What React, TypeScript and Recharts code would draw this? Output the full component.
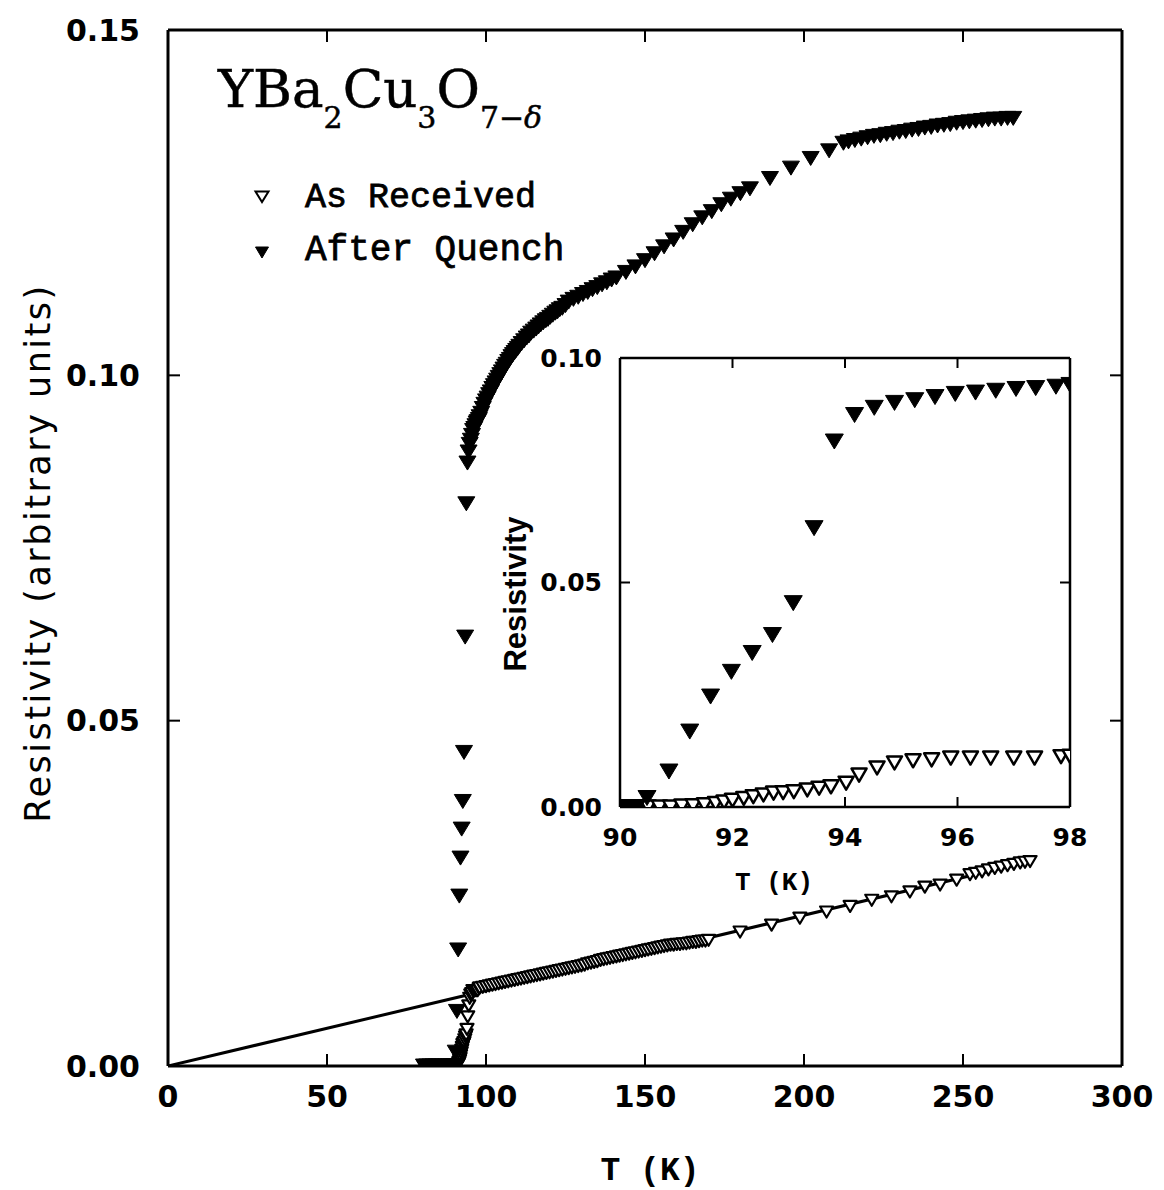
import { ScatterChart, Scatter, XAxis, YAxis } from 'recharts'

// axis ticks
const tempTicks = [0, 50, 100, 150, 200, 250, 300]
const resTicks = [0, 0.05, 0.1, 0.15]
const insetTempTicks = [90, 92, 94, 96, 98]
const insetResTicks = [0, 0.05, 0.1]

// [T (K), resistivity]
const asReceived: [number, number][] = [
  [80.5, 0], [81.5, 0], [82.5, 0], [83.5, 0], [84.5, 0], [85.5, 0], [86.5, 0],
  [87.5, 0], [88.5, 0], [89.3, 0], [89.8, 0],
  [90.1, 0], [90.3, 0], [90.5, 0], [90.7, 0], [90.9, 0], [91.1, 0.0002],
  [91.3, 0.0003], [91.5, 0.0005], [91.7, 0.0008], [91.85, 0.0011], [92.0, 0.0015],
  [92.2, 0.0019], [92.37, 0.0023], [92.55, 0.0027], [92.73, 0.0031], [92.9, 0.0032],
  [93.09, 0.0034], [93.33, 0.0038], [93.54, 0.0042], [93.75, 0.0045], [94.02, 0.0053],
  [94.25, 0.0071], [94.57, 0.0087], [94.88, 0.0098], [95.21, 0.0103], [95.54, 0.0105],
  [95.88, 0.0109], [96.23, 0.0109], [96.59, 0.0109], [97.0, 0.0109], [97.37, 0.0109],
  [97.84, 0.0112],
  [98, 0.0113], [99, 0.0114], [100, 0.0115], [101, 0.0116], [102, 0.0117],
  [103, 0.0118], [104, 0.0119], [105, 0.012], [106, 0.0121], [107, 0.0122],
  [108, 0.0123], [109, 0.0124], [110, 0.0125], [111, 0.0126], [112, 0.0127],
  [113, 0.0128], [114, 0.0129], [115, 0.013], [116, 0.0131], [117, 0.0132],
  [118, 0.0133], [119, 0.0134], [120, 0.0135], [121, 0.0136], [122, 0.0137],
  [123, 0.0138], [124, 0.0139], [125, 0.014], [126, 0.0141], [127, 0.0142],
  [128, 0.0143], [129, 0.0144], [130, 0.0145], [131, 0.0146], [132, 0.0148],
  [133, 0.0149], [134, 0.015], [135, 0.0151], [136, 0.0153], [137, 0.0154],
  [138, 0.0155], [139, 0.0156], [140, 0.0157], [141, 0.0158], [142, 0.0159],
  [143, 0.016], [144, 0.0161], [145, 0.0162], [146, 0.0163], [147, 0.0164],
  [148, 0.0165], [149, 0.0166], [150, 0.0167], [151, 0.0168], [152, 0.0169],
  [153, 0.017], [154, 0.0171], [155, 0.0172], [156, 0.0173], [157, 0.0174],
  [158, 0.0175], [159, 0.0175], [160, 0.0176], [161, 0.0176], [162, 0.0177],
  [163, 0.0177], [164, 0.0178], [165, 0.0179], [166, 0.0179], [167, 0.018],
  [168, 0.0181], [169, 0.0181], [170, 0.0182],
  [179.9, 0.0194], [189.8, 0.0204], [198.7, 0.0214], [207.1, 0.0223],
  [214.5, 0.0231], [221.3, 0.024], [227.5, 0.0245], [233.3, 0.0252], [238, 0.0259],
  [242.8, 0.0262], [248, 0.0269], [252.2, 0.0277],
  [254, 0.0279], [256, 0.0281], [258, 0.0284], [260, 0.0286], [262, 0.0288],
  [264, 0.029], [266, 0.0292], [268, 0.0294], [269.5, 0.0295], [271.1, 0.0296],
]

const afterQuench: [number, number][] = [
  [80.5, 0], [81.5, 0], [82.5, 0], [83.5, 0], [84.5, 0], [85.5, 0], [86.5, 0],
  [87.5, 0], [88.5, 0], [89.2, 0], [89.8, 0], [90.1, 0], [90.3, 0],
  [90.48, 0.002], [90.87, 0.0079], [91.24, 0.0168], [91.61, 0.0246], [91.98, 0.0301],
  [92.35, 0.0343], [92.71, 0.0383], [93.08, 0.0454], [93.45, 0.0621], [93.81, 0.0814],
  [94.17, 0.0873], [94.52, 0.0889], [94.88, 0.09], [95.24, 0.0906], [95.6, 0.0913],
  [95.96, 0.092], [96.32, 0.0923], [96.68, 0.0927], [97.04, 0.0931], [97.39, 0.0933],
  [97.75, 0.0936],
  [98, 0.094], [98.5, 0.0945], [99, 0.0952], [99.5, 0.0958], [100, 0.0963],
  [100.5, 0.0967], [101, 0.0972], [101.5, 0.0976], [102, 0.0981], [102.5, 0.0985],
  [103, 0.0989], [103.5, 0.0993], [104, 0.0997], [104.5, 0.1001], [105, 0.1005],
  [105.5, 0.1009], [106, 0.1013], [106.5, 0.1016], [107, 0.102], [107.5, 0.1023],
  [108, 0.1027], [108.5, 0.103], [109, 0.1033], [109.5, 0.1036], [110, 0.1039],
  [110.5, 0.1042], [111.2, 0.1046], [112, 0.105], [112.8, 0.1054], [113.5, 0.1057],
  [114.2, 0.1061], [115, 0.1064], [115.8, 0.1067], [116.5, 0.107], [117.2, 0.1073],
  [118, 0.1076], [118.8, 0.1079], [119.5, 0.1081], [120.2, 0.1084], [121, 0.1087],
  [121.8, 0.109], [122.5, 0.1092], [123.2, 0.1095], [124, 0.1097], [125, 0.1101],
  [126, 0.1106], [127.5, 0.111], [129, 0.1113], [130.5, 0.1117], [132, 0.112],
  [133.5, 0.1124], [135, 0.1127], [136.5, 0.1131], [138, 0.1134], [139.5, 0.1138],
  [141, 0.1141], [144, 0.1149], [147, 0.1157],
  [150, 0.1166], [153, 0.1176], [156, 0.1186], [159, 0.1196], [162, 0.1207],
  [165, 0.1218], [168, 0.1228], [171, 0.1237], [174, 0.1247], [177, 0.1255],
  [180, 0.1263], [183, 0.127],
  [189.3, 0.1285], [195.9, 0.13], [202.1, 0.1314], [207.9, 0.1325],
  [212.4, 0.1336], [214, 0.1338], [216, 0.134], [218, 0.1342], [220, 0.1344],
  [222, 0.1346], [224, 0.1347], [226, 0.1349], [228, 0.135], [230, 0.1352],
  [232, 0.1353], [234, 0.1355], [236, 0.1356], [238, 0.1358], [240, 0.1359],
  [242, 0.1361], [244, 0.1362], [246, 0.1363], [248, 0.1365], [250, 0.1366],
  [252, 0.1367], [254, 0.1368], [256, 0.1369], [258, 0.137], [260, 0.1371],
  [262, 0.1371], [264, 0.1372], [265.8, 0.1372],
]

// straight line drawn through the origin
const fitLine: [number, number][] = [[0, 0], [271, 0.0296]]

const toPoints = (rows: [number, number][]) => rows.map(([T, R]) => ({ T, R }))
const inInset = (rows: [number, number][]) =>
  toPoints(rows.filter(([T]) => T >= 90 && T <= 98))

function tri(w: number, h: number, filled: boolean, sw = 2) {
  return (props: any) => {
    const { cx, cy } = props
    if (cx == null || cy == null) return <g />
    const d = `M${cx - w / 2},${cy - h / 2}L${cx + w / 2},${cy - h / 2}L${cx},${cy + h / 2}Z`
    return (
      <path
        d={d}
        fill={filled ? '#000' : '#fff'}
        stroke="#000"
        strokeWidth={filled ? 1 : sw}
        strokeLinejoin="round"
      />
    )
  }
}

const noDot = () => <g />
const blank = () => ''

const mainTick = { fill: '#000', fontSize: 30, fontFamily: 'DejaVu Sans', fontWeight: 'bold' }
const insetTick = { fill: '#000', fontSize: 25, fontFamily: 'DejaVu Sans', fontWeight: 'bold' }
const frame = { stroke: '#000', strokeWidth: 3 }
const insetFrame = { stroke: '#000', strokeWidth: 2.5 }
const tickStroke = { stroke: '#000', strokeWidth: 2 }

function MainChart() {
  return (
    <ScatterChart width={1164} height={1190} margin={{ top: 29, right: 41, bottom: 0, left: 0 }}>
      <XAxis xAxisId="b" dataKey="T" type="number" domain={[0, 300]} ticks={tempTicks}
        allowDataOverflow height={124} axisLine={frame} tickLine={tickStroke}
        tickSize={-12} tickMargin={32} tick={mainTick} />
      <XAxis xAxisId="t" orientation="top" dataKey="T" type="number" domain={[0, 300]}
        ticks={tempTicks} allowDataOverflow height={1} axisLine={frame} tickLine={tickStroke}
        tickSize={-12} tickFormatter={blank} />
      <YAxis yAxisId="l" dataKey="R" type="number" domain={[0, 0.15]} ticks={resTicks}
        allowDataOverflow width={168} axisLine={frame} tickLine={tickStroke}
        tickSize={-12} tickMargin={40} tick={mainTick}
        tickFormatter={(v: number) => v.toFixed(2)} />
      <YAxis yAxisId="r" orientation="right" dataKey="R" type="number" domain={[0, 0.15]}
        ticks={resTicks} allowDataOverflow width={1} axisLine={frame} tickLine={tickStroke}
        tickSize={-12} tickFormatter={blank} />
      <Scatter xAxisId="b" yAxisId="l" data={toPoints(fitLine)} line={{ stroke: '#000', strokeWidth: 3 }}
        shape={noDot} isAnimationActive={false} />
      <Scatter xAxisId="b" yAxisId="l" data={toPoints(asReceived)} shape={tri(13, 11, false, 2.2)}
        isAnimationActive={false} />
      <Scatter xAxisId="b" yAxisId="l" data={toPoints(afterQuench)} shape={tri(17, 14, true)}
        isAnimationActive={false} />
    </ScatterChart>
  )
}

function InsetChart() {
  return (
    <ScatterChart width={620} height={570} margin={{ top: 17, right: 19, bottom: 0, left: 0 }}>
      <XAxis xAxisId="b" dataKey="T" type="number" domain={[90, 98]} ticks={insetTempTicks}
        allowDataOverflow height={103} axisLine={insetFrame} tickLine={tickStroke}
        tickSize={-10} tickMargin={31} tick={insetTick} />
      <XAxis xAxisId="t" orientation="top" dataKey="T" type="number" domain={[90, 98]}
        ticks={insetTempTicks} allowDataOverflow height={1} axisLine={insetFrame}
        tickLine={tickStroke} tickSize={-10} tickFormatter={blank} />
      <YAxis yAxisId="l" dataKey="R" type="number" domain={[0, 0.1]} ticks={insetResTicks}
        allowDataOverflow width={150} axisLine={insetFrame} tickLine={tickStroke}
        tickSize={-10} tickMargin={28} tick={insetTick}
        tickFormatter={(v: number) => v.toFixed(2)} />
      <YAxis yAxisId="r" orientation="right" dataKey="R" type="number" domain={[0, 0.1]}
        ticks={insetResTicks} allowDataOverflow width={1} axisLine={insetFrame}
        tickLine={tickStroke} tickSize={-10} tickFormatter={blank} />
      <Scatter xAxisId="b" yAxisId="l" data={inInset(asReceived)} shape={tri(15, 13, false, 2.5)}
        isAnimationActive={false} />
      <Scatter xAxisId="b" yAxisId="l" data={inInset(afterQuench)} shape={tri(18, 15, true)}
        isAnimationActive={false} />
    </ScatterChart>
  )
}

export default function App() {
  return (
    <div style={{ position: 'absolute', left: 0, top: 0, width: 1164, height: 1190, background: '#fff' }}>
      <div style={{ position: 'absolute', left: 0, top: 0 }}>
        <MainChart />
      </div>
      <div style={{ position: 'absolute', left: 470, top: 340 }}>
        <InsetChart />
      </div>
      <svg width={1164} height={1190} style={{ position: 'absolute', left: 0, top: 0, pointerEvents: 'none' }}>
        {/* formula */}
        <text x={218} y={107} fontFamily="DejaVu Serif" fontSize={53} fill="#000"
          stroke="#000" strokeWidth={0.5}>
          YBa<tspan dy={21} fontSize={30}>2</tspan>
          <tspan dy={-21}>Cu</tspan>
          <tspan dy={21} fontSize={30}>3</tspan>
          <tspan dy={-21}>O</tspan>
          <tspan dy={21} fontSize={30}>7−<tspan fontStyle="italic">δ</tspan></tspan>
        </text>

        {/* legend */}
        <path d="M255.5,191.5L268.5,191.5L262,202Z" fill="#fff" stroke="#000" strokeWidth={2} />
        <text x={305} y={207} fontFamily="Liberation Mono" fontSize={35} fill="#000"
          stroke="#000" strokeWidth={0.8}>As Received</text>
        <path d="M255.5,247L268.5,247L262,258Z" fill="#000" stroke="#000" strokeWidth={1} />
        <text x={305} y={260} fontFamily="Liberation Mono" fontSize={36} fill="#000"
          stroke="#000" strokeWidth={0.8}>After Quench</text>

        {/* axis titles */}
        <text transform="translate(38,553) rotate(-90)" textAnchor="middle" dominantBaseline="central"
          fontFamily="DejaVu Sans" fontSize={35} letterSpacing={2.5} fill="#000">
          Resistivity (arbitrary units)
        </text>
        <text x={650} y={1180} textAnchor="middle" fontFamily="Liberation Mono" fontWeight="bold"
          fontSize={33} fill="#000">T (K)</text>
        <text transform="translate(515,594) rotate(-90)" textAnchor="middle" dominantBaseline="central"
          fontFamily="Liberation Sans" fontWeight="bold" fontSize={31} fill="#000">Resistivity</text>
        <text x={774} y={890} textAnchor="middle" fontFamily="Liberation Mono" fontWeight="bold"
          fontSize={26} fill="#000">T (K)</text>
      </svg>
    </div>
  )
}
